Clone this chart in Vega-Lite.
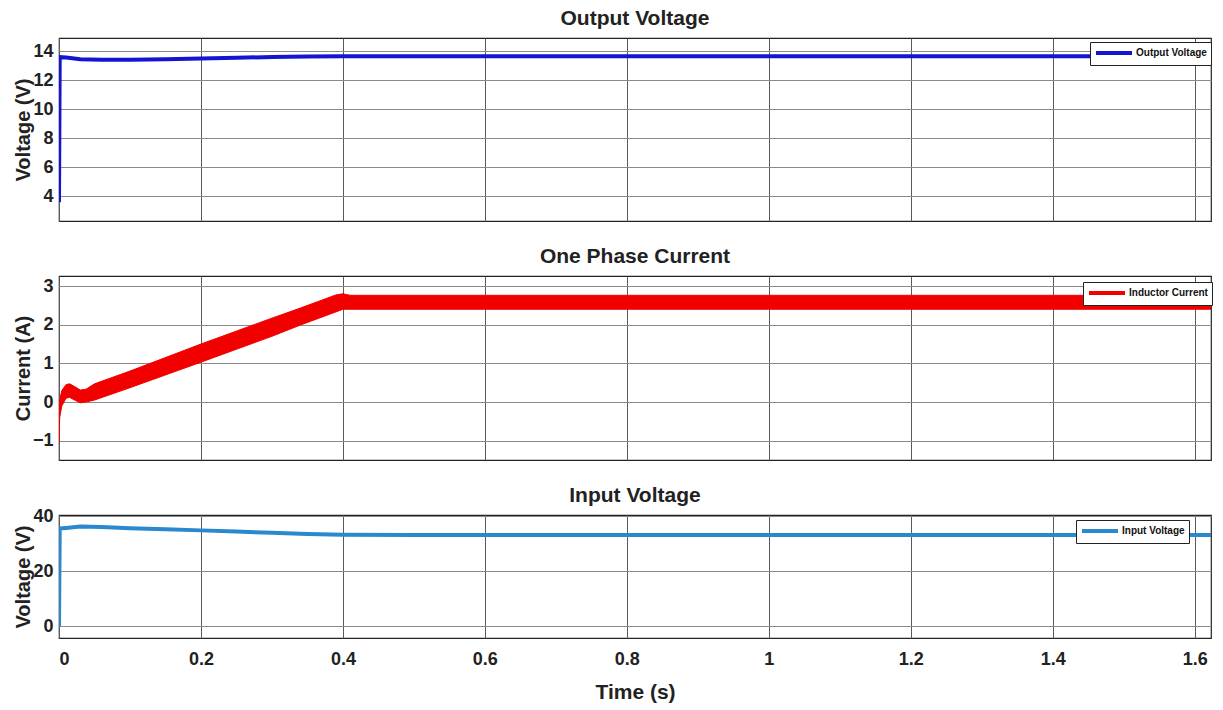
{
  "$schema": "https://vega.github.io/schema/vega-lite/v6.json",
  "padding": {"left": 12, "top": 7, "right": 8, "bottom": 5},
  "background": "white",
  "config": {
    "font": "Liberation Sans",
    "view": {"stroke": "#222", "strokeWidth": 1.2},
    "axis": {"labelFont": "Liberation Sans", "labelFontSize": 18, "labelFontWeight": "bold", "labelColor": "#222", "titleFont": "Liberation Sans", "titleFontSize": 20, "titleFontWeight": "bold", "titleColor": "#222", "gridColor": "#8a8a8a", "gridOpacity": 1, "gridWidth": 1, "ticks": false, "domain": false, "zindex": 1},
    "axisX": {"gridColor": "#5a5a5a"},
    "title": {"font": "Liberation Sans", "fontSize": 21, "fontWeight": "bold", "color": "#222", "offset": 9, "frame": "group"},
    "legend": {"orient": "none", "title": null, "padding": 4, "strokeColor": "#222", "fillColor": "white", "symbolType": "M-3.6,0H3.6", "symbolStrokeWidth": 4, "symbolSize": 100, "symbolOffset": 13, "labelOffset": 15, "labelFont": "Liberation Sans", "labelFontSize": 10, "labelFontWeight": "bold", "labelColor": "#111", "cornerRadius": 0}
  },
  "spacing": 23,
  "resolve": {"scale": {"stroke": "independent", "y": "independent"}, "legend": {"stroke": "independent"}},
  "vconcat": [
    {
      "width": 1152, "height": 183,
      "title": {"text": "Output Voltage"},
      "data": {"values": [
        {"t": 0, "v": 3.6, "s": "Output Voltage"},
        {"t": 0.001, "v": 13.58, "s": "Output Voltage"},
        {"t": 0.01, "v": 13.55, "s": "Output Voltage"},
        {"t": 0.03, "v": 13.44, "s": "Output Voltage"},
        {"t": 0.06, "v": 13.4, "s": "Output Voltage"},
        {"t": 0.1, "v": 13.4, "s": "Output Voltage"},
        {"t": 0.15, "v": 13.44, "s": "Output Voltage"},
        {"t": 0.2, "v": 13.49, "s": "Output Voltage"},
        {"t": 0.25, "v": 13.54, "s": "Output Voltage"},
        {"t": 0.3, "v": 13.59, "s": "Output Voltage"},
        {"t": 0.35, "v": 13.62, "s": "Output Voltage"},
        {"t": 0.4, "v": 13.64, "s": "Output Voltage"},
        {"t": 0.6, "v": 13.64, "s": "Output Voltage"},
        {"t": 0.8, "v": 13.64, "s": "Output Voltage"},
        {"t": 1.0, "v": 13.64, "s": "Output Voltage"},
        {"t": 1.2, "v": 13.64, "s": "Output Voltage"},
        {"t": 1.4, "v": 13.64, "s": "Output Voltage"},
        {"t": 1.623, "v": 13.64, "s": "Output Voltage"}
      ]},
      "mark": {"type": "line", "strokeWidth": 4, "clip": true},
      "encoding": {
        "x": {"field": "t", "type": "quantitative", "scale": {"domain": [0, 1.623], "nice": false, "zero": false}, "axis": {"values": [0, 0.2, 0.4, 0.6, 0.8, 1, 1.2, 1.4, 1.6], "labels": false, "title": null}},
        "y": {"field": "v", "type": "quantitative", "scale": {"domain": [2.3, 14.9], "nice": false, "zero": false}, "axis": {"title": "Voltage (V)", "values": [4, 6, 8, 10, 12, 14], "labelPadding": 6, "titlePadding": -1}},
        "stroke": {"field": "s", "type": "nominal", "scale": {"domain": ["Output Voltage"], "range": ["#1414d2"]}, "legend": {"legendX": 1031, "legendY": 4}}
      }
    },
    {
      "width": 1152, "height": 184,
      "title": {"text": "One Phase Current"},
      "data": {"values": [
        {"t": 0, "lo": -1.05, "hi": -0.5, "s": "Inductor Current"},
        {"t": 0.001, "lo": -0.4, "hi": 0.05, "s": "Inductor Current"},
        {"t": 0.004, "lo": -0.1, "hi": 0.3, "s": "Inductor Current"},
        {"t": 0.01, "lo": 0.1, "hi": 0.45, "s": "Inductor Current"},
        {"t": 0.015, "lo": 0.12, "hi": 0.47, "s": "Inductor Current"},
        {"t": 0.022, "lo": 0.05, "hi": 0.4, "s": "Inductor Current"},
        {"t": 0.03, "lo": -0.02, "hi": 0.31, "s": "Inductor Current"},
        {"t": 0.038, "lo": 0.0, "hi": 0.33, "s": "Inductor Current"},
        {"t": 0.05, "lo": 0.05, "hi": 0.47, "s": "Inductor Current"},
        {"t": 0.1, "lo": 0.37, "hi": 0.8, "s": "Inductor Current"},
        {"t": 0.2, "lo": 1.03, "hi": 1.5, "s": "Inductor Current"},
        {"t": 0.3, "lo": 1.7, "hi": 2.17, "s": "Inductor Current"},
        {"t": 0.34, "lo": 1.99, "hi": 2.43, "s": "Inductor Current"},
        {"t": 0.39, "lo": 2.33, "hi": 2.77, "s": "Inductor Current"},
        {"t": 0.4, "lo": 2.4, "hi": 2.8, "s": "Inductor Current"},
        {"t": 0.41, "lo": 2.4, "hi": 2.76, "s": "Inductor Current"},
        {"t": 1.0, "lo": 2.4, "hi": 2.76, "s": "Inductor Current"},
        {"t": 1.623, "lo": 2.4, "hi": 2.76, "s": "Inductor Current"}
      ]},
      "mark": {"type": "area", "fill": "#f20000", "fillOpacity": 1, "strokeWidth": 1, "clip": true},
      "encoding": {
        "x": {"field": "t", "type": "quantitative", "scale": {"domain": [0, 1.623], "nice": false, "zero": false}, "axis": {"values": [0, 0.2, 0.4, 0.6, 0.8, 1, 1.2, 1.4, 1.6], "labels": false, "title": null}},
        "y": {"field": "lo", "type": "quantitative", "scale": {"domain": [-1.5, 3.26], "nice": false, "zero": false}, "axis": {"title": "Current (A)", "values": [-1, 0, 1, 2, 3], "labelPadding": 6, "titlePadding": -1}},
        "y2": {"field": "hi"},
        "stroke": {"field": "s", "type": "nominal", "scale": {"domain": ["Inductor Current"], "range": ["#f20000"]}, "legend": {"legendX": 1024, "legendY": 6}}
      }
    },
    {
      "width": 1152, "height": 123,
      "title": {"text": "Input Voltage", "offset": 1},
      "data": {"values": [
        {"t": 0, "v": 0, "s": "Input Voltage"},
        {"t": 0.001, "v": 35.6, "s": "Input Voltage"},
        {"t": 0.01, "v": 35.8, "s": "Input Voltage"},
        {"t": 0.03, "v": 36.3, "s": "Input Voltage"},
        {"t": 0.06, "v": 36.1, "s": "Input Voltage"},
        {"t": 0.1, "v": 35.7, "s": "Input Voltage"},
        {"t": 0.15, "v": 35.3, "s": "Input Voltage"},
        {"t": 0.2, "v": 34.9, "s": "Input Voltage"},
        {"t": 0.25, "v": 34.5, "s": "Input Voltage"},
        {"t": 0.3, "v": 34.0, "s": "Input Voltage"},
        {"t": 0.35, "v": 33.6, "s": "Input Voltage"},
        {"t": 0.4, "v": 33.3, "s": "Input Voltage"},
        {"t": 0.5, "v": 33.25, "s": "Input Voltage"},
        {"t": 1.0, "v": 33.2, "s": "Input Voltage"},
        {"t": 1.623, "v": 33.2, "s": "Input Voltage"}
      ]},
      "mark": {"type": "line", "strokeWidth": 4, "clip": true},
      "encoding": {
        "x": {"field": "t", "type": "quantitative", "scale": {"domain": [0, 1.623], "nice": false, "zero": false}, "axis": {"values": [0, 0.2, 0.4, 0.6, 0.8, 1, 1.2, 1.4, 1.6], "format": "~g", "title": "Time (s)", "labelPadding": 12, "titlePadding": 13, "titleFontSize": 21}},
        "y": {"field": "v", "type": "quantitative", "scale": {"domain": [-4.3, 40.5], "nice": false, "zero": false}, "axis": {"title": "Voltage (V)", "values": [0, 20, 40], "labelPadding": 6, "titlePadding": -1}},
        "stroke": {"field": "s", "type": "nominal", "scale": {"domain": ["Input Voltage"], "range": ["#2a88cc"]}, "legend": {"legendX": 1017, "legendY": 5}}
      }
    }
  ]
}
